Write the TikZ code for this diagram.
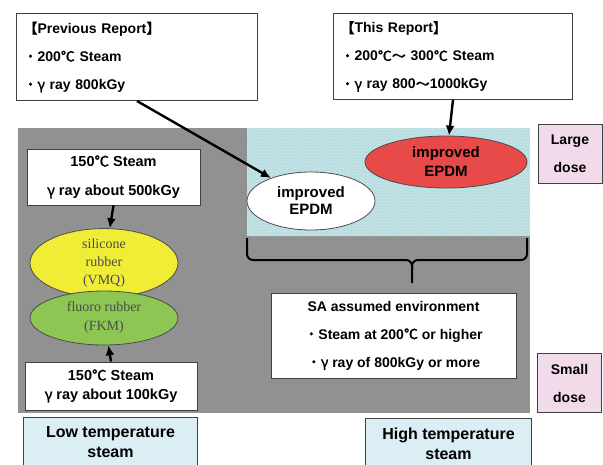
\documentclass[tikz,border=0pt]{standalone}
\usepackage{fontspec}
\setmainfont{Liberation Sans}
\newfontfamily\jp[AutoFakeBold=1.5]{Noto Sans CJK JP}
\newfontfamily\rubberfont{Liberation Serif}
\newcommand\cj[1]{{\jp #1}}
\usepackage{tikz}
\usetikzlibrary{shapes.geometric,arrows.meta,patterns}
\definecolor{bggray}{HTML}{919191}
\definecolor{hicyan}{HTML}{B8DDE1}
\definecolor{epdmred}{HTML}{E84A4A}
\definecolor{vmqyellow}{HTML}{EFED36}
\definecolor{fkmgreen}{HTML}{8DC653}
\definecolor{dosepink}{HTML}{F1DAE9}
\definecolor{templblue}{HTML}{DBEEF3}

\begin{document}
\begin{tikzpicture}[x=1pt,y=-1pt,
  box/.style={draw=black!75,line width=1pt,fill=white,inner sep=0pt,
    font=\bfseries\fontsize{14}{28}\selectfont},
  reportbox/.style={box,anchor=north west,align=left,text width=#1},
  dosebox/.style={box,fill=dosepink,minimum width=64,minimum height=59,align=center},
  tempbox/.style={box,fill=templblue,anchor=north west,minimum height=50,align=center,
    font=\bfseries\fontsize{16}{20}\selectfont},
  mat/.style={ellipse,draw=black!70,line width=0.8pt,inner sep=0pt,align=center},
  arr/.style={line width=2.4pt,-{Latex[length=10pt,width=9pt]}}]
\useasboundingbox (0,0) rectangle (603,464);
\fill[bggray] (18,128) rectangle (530,413);
\fill[hicyan] (247,128) rectangle (530,236);
\fill[pattern=crosshatch dots,pattern color=white!50!hicyan] (247,128) rectangle (530,236);
\draw[line width=2pt,rounded corners=6pt] (247,238) -- (247,260) -- (412,260) -- (412,283);
\draw[line width=2pt,rounded corners=6pt] (412,270) |- (527,260) -- (527,238);

\node[reportbox=227,minimum width=241,minimum height=87] (prev) at (16,13)
  {\cj{【}Previous Report\cj{】}\\ \cj{・}200\cj{℃} Steam\\ \cj{・}\cj{γ} ray 800kGy};
\node[reportbox=225,minimum width=239,minimum height=86] (this) at (333,13)
  {\cj{【}This Report\cj{】}\\ \cj{・}200\cj{℃}\cj{～} 300\cj{℃} Steam\\ \cj{・}\cj{γ} ray 800\cj{～}1000kGy};

\node[box,align=center,minimum width=173,minimum height=56,
  font=\bfseries\fontsize{14.5}{29}\selectfont] (steamhi) at (113.5,177)
  {150\cj{℃} Steam\\ \cj{γ} ray about 500kGy};
\node[box,align=center,minimum width=172,minimum height=48,
  font=\bfseries\fontsize{14.5}{19}\selectfont] (steamlo) at (111,386)
  {150\cj{℃} Steam\\ \cj{γ} ray about 100kGy};

\node[mat,fill=vmqyellow,minimum width=148,minimum height=56,text=black!70,
  font=\rubberfont\fontsize{14}{18}\selectfont] (vmq) at (104,263)
  {silicone\\ rubber\\ (VMQ)};
\node[mat,fill=fkmgreen,minimum width=148,minimum height=54,text=black!70,
  font=\rubberfont\fontsize{14}{19}\selectfont] (fkm) at (104,318)
  {fluoro rubber\\ (FKM)};

\node[mat,fill=white,minimum width=128,minimum height=58,
  font=\bfseries\fontsize{15}{17}\selectfont] (epdmw) at (311,201)
  {improved\\ EPDM};
\node[mat,fill=epdmred,minimum width=162,minimum height=52,
  font=\bfseries\fontsize{15}{19}\selectfont] (epdmr) at (446,162)
  {improved\\ EPDM};

\node[box,align=center,minimum width=245,minimum height=85] (sa) at (393.5,335.5)
  {SA assumed environment\\ \cj{・}Steam at 200\cj{℃} or higher\\ \cj{・}\cj{γ} ray of 800kGy or more};

\node[dosebox] (large) at (570,153.5) {Large\\ dose};
\node[dosebox] (small) at (569.5,383) {Small\\ dose};

\node[tempbox,minimum width=174] (lowt) at (23,417) {Low temperature\\ steam};
\node[tempbox,minimum width=166] (hight) at (365,418) {High temperature\\ steam};

\draw[arr] (prev.south) -- (epdmw);
\draw[arr] (this.south) -- (epdmr);
\draw[arr] (steamhi.south) -- (vmq);
\draw[arr] (steamlo.north) -- (fkm);
\end{tikzpicture}
\end{document}
